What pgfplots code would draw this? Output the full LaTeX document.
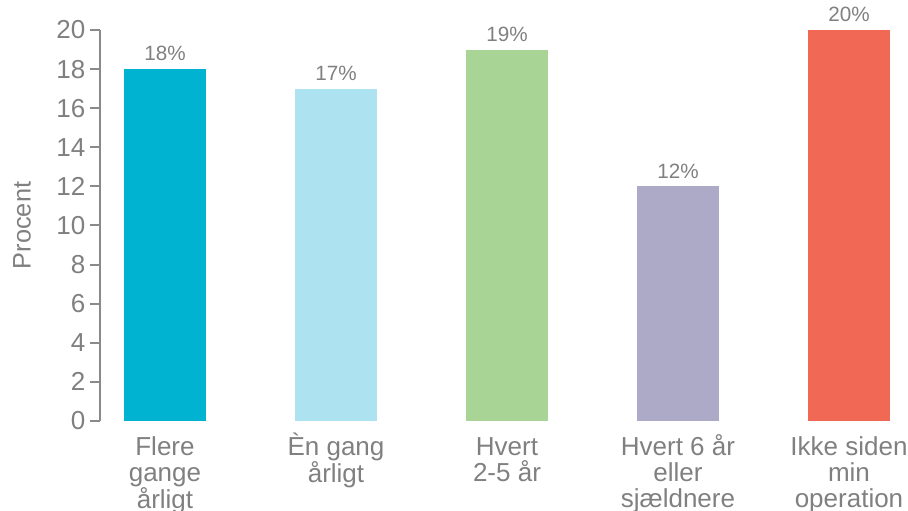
\documentclass[border=0pt]{standalone}
\usepackage{pgfplots}
\pgfplotsset{compat=1.18}
\usepackage{fontspec}
\setmainfont{Liberation Sans}

\definecolor{txtgray}{HTML}{808080}
\definecolor{axgray}{HTML}{8A8A8C}
\definecolor{cA}{HTML}{00B3D1}
\definecolor{cB}{HTML}{ADE3F0}
\definecolor{cC}{HTML}{A8D595}
\definecolor{cD}{HTML}{ADAAC8}
\definecolor{cE}{HTML}{F16855}

\newcommand{\tl}{\rule{0pt}{19pt}}

\begin{document}
\begin{tikzpicture}
\begin{axis}[
  at={(0,0)}, anchor=south west,
  scale only axis,
  width=606pt, height=293.25pt,
  ybar, bar width=0.474,
  xmin=-0.38, xmax=4.345,
  ymin=0, ymax=20,
  ytick={0,2,...,20},
  xtick={0,1,2,3,4},
  xticklabels={\tl Flere\\gange\\årligt, \tl Èn gang\\årligt, \tl Hvert\\2-5 år, \tl Hvert 6 år\\eller\\sjældnere, \tl Ikke siden\\min\\operation},
  axis y line*=left,
  axis x line*=bottom,
  x axis line style={draw=none},
  y axis line style={axgray, line width=1.5pt, -},
  xtick style={draw=none},
  ytick style={axgray, line width=1.5pt},
  tick align=outside,
  major tick length=7.5pt,
  /pgf/number format/assume math mode=true,
  ticklabel style={font=\fontsize{19.5}{19.5}\selectfont, text=txtgray},
  xticklabel style={align=center, anchor=north, inner sep=0pt, yshift=1pt},
  ylabel={Procent},
  ylabel style={at={(axis description cs:0,0.5)}, anchor=center, yshift=58.5pt, font=\fontsize{19}{21}\selectfont, text=txtgray},
  nodes near coords={\pgfmathprintnumber{\pgfplotspointmeta}\%},
  nodes near coords style={font=\fontsize{15.5}{17}\selectfont, text=txtgray, yshift=2.5pt, /pgf/number format/assume math mode=true},
  clip=false,
]
\addplot[fill=cA, draw=none, bar shift=0pt] coordinates {(0,18)};
\addplot[fill=cB, draw=none, bar shift=0pt] coordinates {(1,17)};
\addplot[fill=cC, draw=none, bar shift=0pt] coordinates {(2,19)};
\addplot[fill=cD, draw=none, bar shift=0pt] coordinates {(3,12)};
\addplot[fill=cE, draw=none, bar shift=0pt] coordinates {(4,20)};
\end{axis}
\pgfresetboundingbox
\useasboundingbox (-75pt,-67.5pt) rectangle (606pt,315.75pt);
\end{tikzpicture}
\end{document}
